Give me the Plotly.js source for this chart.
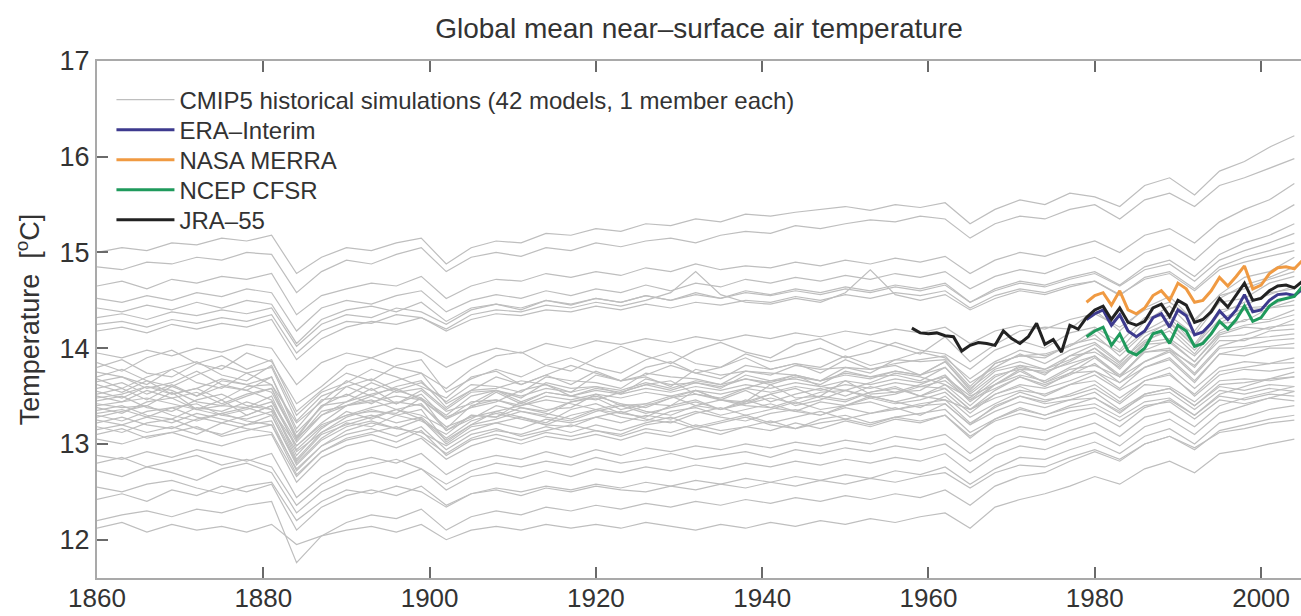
<!DOCTYPE html>
<html>
<head>
<meta charset="utf-8">
<script src="https://cdn.plot.ly/plotly-3.0.1.min.js"></script>
<style>html,body{margin:0;padding:0;background:#fff;overflow:hidden}</style>
</head>
<body>
<div id="chart" style="width:1301px;height:616px"></div>
<script>
// ---------------- data ----------------
const years = [1860,1863,1866,1869,1872,1875,1878,1881,1884,1887,1890,1893,1896,1899,1902,1905,1908,1911,1914,1917,1920,1923,1926,1929,1932,1935,1938,1941,1944,1947,1950,1953,1956,1959,1962,1965,1968,1971,1974,1977,1980,1983,1986,1989,1992,1995,1998,2001,2004];
const xTicks = [1860,1880,1900,1920,1940,1960,1980,2000];
const yTicks = [12,13,14,15,16,17];

// CMIP5 models - upper group
const model01 = [15.00,15.05,15.02,15.10,15.08,15.15,15.12,15.18,14.78,14.95,15.05,15.02,15.10,15.15,14.88,15.05,15.12,15.10,15.20,15.18,15.25,15.22,15.30,15.28,15.35,15.32,15.40,15.38,15.42,15.45,15.48,15.44,15.50,15.47,15.52,15.30,15.45,15.55,15.50,15.62,15.58,15.48,15.70,15.78,15.60,15.85,15.95,16.10,16.22];
const model02 = [14.85,14.82,14.90,14.88,14.95,14.92,15.00,14.98,14.58,14.80,14.92,14.88,14.98,15.05,14.80,14.95,15.00,14.96,15.05,15.02,15.10,15.06,15.12,15.15,15.10,15.18,15.22,15.20,15.28,15.25,15.30,15.34,15.32,15.38,15.35,15.15,15.30,15.38,15.35,15.45,15.50,15.35,15.55,15.62,15.48,15.70,15.78,15.88,15.98];
const model03 = [14.65,14.70,14.62,14.72,14.68,14.75,14.72,14.78,14.35,14.55,14.62,14.68,14.65,14.75,14.52,14.65,14.72,14.70,14.78,14.74,14.80,14.76,14.84,14.80,14.88,14.82,14.86,14.84,14.90,14.86,14.92,14.88,14.94,14.90,14.96,14.78,14.92,15.00,14.96,15.05,15.12,15.00,15.18,15.25,15.10,15.32,15.45,15.55,15.72];
const model04 = [14.52,14.48,14.55,14.50,14.58,14.54,14.62,14.58,14.18,14.42,14.50,14.46,14.55,14.60,14.38,14.50,14.56,14.52,14.60,14.55,14.62,14.58,14.66,14.60,14.68,14.64,14.72,14.68,14.74,14.70,14.76,14.72,14.78,14.74,14.80,14.62,14.75,14.82,14.78,14.88,14.95,14.82,15.00,15.08,14.92,15.15,15.25,15.35,15.50];
const model05 = [14.42,14.38,14.45,14.40,14.48,14.42,14.50,14.46,14.05,14.30,14.40,14.44,14.38,14.48,14.28,14.42,14.46,14.40,14.50,14.45,14.52,14.48,14.55,14.50,14.58,14.52,14.60,14.56,14.62,14.58,14.64,14.60,14.66,14.62,14.68,14.48,14.62,14.70,14.66,14.74,14.80,14.66,14.85,14.92,14.75,14.98,15.10,15.18,15.30];
const model06 = [14.32,14.36,14.30,14.38,14.34,14.40,14.36,14.42,14.02,14.25,14.35,14.32,14.42,14.38,14.25,14.40,14.46,14.42,14.50,14.46,14.52,14.48,14.55,14.50,14.56,14.52,14.58,14.55,14.60,14.56,14.62,14.58,14.64,14.60,14.66,14.48,14.60,14.68,14.64,14.72,14.78,14.65,14.82,14.88,14.70,14.92,15.02,15.10,15.20];
const model07 = [14.25,14.28,14.22,14.30,14.26,14.32,14.28,14.35,13.95,14.18,14.28,14.26,14.35,14.32,14.20,14.35,14.40,14.38,14.45,14.42,14.48,14.44,14.50,14.58,14.80,14.56,14.48,14.46,14.52,14.48,14.58,14.82,14.56,14.50,14.56,14.40,14.52,14.60,14.56,14.64,14.70,14.55,14.74,14.80,14.62,14.85,14.95,15.02,15.10];
const model08 = [14.18,14.22,14.16,14.25,14.20,14.26,14.22,14.30,13.88,14.10,14.22,14.28,14.25,14.32,14.18,14.30,14.36,14.34,14.40,14.38,14.44,14.40,14.46,14.42,14.48,14.45,14.50,14.48,14.54,14.50,14.56,14.52,14.58,14.55,14.60,14.42,14.55,14.62,14.58,14.66,14.70,14.56,14.72,14.78,14.60,14.82,14.90,14.96,15.02];
const model09 = [13.95,13.90,13.98,13.92,14.00,13.96,14.04,14.00,13.62,13.85,13.95,13.90,14.00,13.96,13.80,13.92,14.00,13.95,14.05,14.00,14.08,14.04,14.10,14.06,14.12,14.08,14.14,14.10,14.16,14.12,14.18,14.14,14.20,14.16,14.22,14.05,14.18,14.24,14.20,14.30,14.36,14.22,14.40,14.48,14.30,14.55,14.62,14.72,14.80];
// CMIP5 models - main group
const model10 = [13.85,13.76,13.90,13.98,13.84,13.78,13.95,13.86,13.42,13.60,13.82,13.90,13.80,13.74,13.58,13.78,13.92,13.96,13.82,13.76,13.90,14.02,13.92,13.84,13.98,14.06,13.96,13.90,14.04,14.10,13.98,14.08,14.02,13.94,14.12,13.86,14.04,14.18,14.22,14.20,14.40,14.18,14.42,14.54,14.28,14.56,14.74,14.80,14.95];
const model11 = [13.80,13.88,13.74,13.70,13.84,13.92,13.78,13.88,13.34,13.56,13.74,13.66,13.82,13.88,13.54,13.68,13.78,13.70,13.82,13.90,13.80,13.74,13.88,13.96,13.84,13.80,13.94,13.86,13.92,14.00,13.90,13.96,14.06,13.98,13.94,13.78,13.98,14.08,14.00,14.16,14.22,14.06,14.32,14.34,14.14,14.48,14.52,14.68,14.75];
const model12 = [13.75,13.70,13.62,13.78,13.86,13.72,13.66,13.82,13.30,13.54,13.64,13.78,13.70,13.60,13.48,13.70,13.76,13.62,13.72,13.82,13.74,13.66,13.80,13.86,13.74,13.80,13.90,13.78,13.84,13.80,13.92,13.82,13.88,13.96,13.90,13.68,13.86,13.98,13.92,14.02,14.14,13.92,14.16,14.26,14.02,14.30,14.42,14.44,14.55];
const model13 = [13.70,13.78,13.66,13.60,13.72,13.82,13.74,13.62,13.22,13.44,13.66,13.56,13.66,13.74,13.42,13.56,13.70,13.62,13.72,13.62,13.76,13.66,13.72,13.82,13.74,13.68,13.82,13.78,13.84,13.74,13.88,13.78,13.84,13.88,13.92,13.64,13.80,13.94,13.84,13.98,14.06,13.86,14.08,14.18,13.94,14.26,14.28,14.42,14.45];
const model14 = [13.68,13.58,13.70,13.78,13.64,13.58,13.74,13.80,13.24,13.50,13.60,13.68,13.56,13.64,13.44,13.62,13.60,13.54,13.70,13.66,13.64,13.58,13.74,13.70,13.68,13.62,13.76,13.74,13.72,13.66,13.80,13.78,13.82,13.72,13.86,13.58,13.78,13.86,13.78,13.92,13.96,13.80,14.04,14.06,13.86,14.14,14.22,14.20,14.30];
const model15 = [13.65,13.70,13.58,13.64,13.76,13.62,13.56,13.70,13.12,13.38,13.60,13.50,13.60,13.66,13.38,13.56,13.58,13.66,13.62,13.54,13.72,13.66,13.70,13.60,13.78,13.72,13.76,13.72,13.82,13.78,13.80,13.74,13.88,13.86,13.88,13.60,13.84,13.92,13.90,14.04,14.10,13.96,14.18,14.32,14.04,14.40,14.44,14.58,14.62];
const model16 = [13.62,13.54,13.66,13.52,13.58,13.68,13.62,13.70,13.16,13.46,13.50,13.64,13.54,13.58,13.36,13.54,13.56,13.48,13.64,13.58,13.60,13.52,13.68,13.62,13.64,13.58,13.72,13.66,13.68,13.62,13.76,13.70,13.72,13.66,13.80,13.52,13.72,13.78,13.76,13.84,13.92,13.72,13.96,13.98,13.82,14.08,14.08,14.18,14.20];
const model17 = [13.58,13.64,13.52,13.62,13.50,13.66,13.62,13.54,13.06,13.40,13.52,13.42,13.56,13.48,13.30,13.50,13.56,13.50,13.58,13.54,13.60,13.56,13.64,13.58,13.66,13.62,13.68,13.64,13.72,13.66,13.74,13.70,13.76,13.72,13.80,13.54,13.76,13.82,13.78,13.88,14.00,13.78,14.06,14.10,13.92,14.18,14.30,14.30,14.40];
const model18 = [13.55,13.48,13.60,13.52,13.58,13.46,13.60,13.62,13.08,13.40,13.44,13.58,13.42,13.56,13.34,13.42,13.56,13.44,13.54,13.50,13.56,13.52,13.58,13.54,13.60,13.56,13.62,13.58,13.64,13.60,13.66,13.62,13.68,13.64,13.70,13.50,13.62,13.76,13.64,13.78,13.82,13.70,13.86,13.96,13.72,14.00,14.02,14.08,14.10];
const model19 = [13.52,13.58,13.46,13.60,13.50,13.60,13.56,13.46,13.02,13.30,13.40,13.44,13.50,13.46,13.28,13.38,13.54,13.42,13.54,13.50,13.58,13.54,13.62,13.56,13.64,13.60,13.68,13.62,13.70,13.66,13.72,13.68,13.76,13.72,13.86,13.56,13.84,13.92,13.94,14.02,14.20,13.98,14.28,14.44,14.18,14.52,14.66,14.74,14.85];
const model20 = [13.50,13.44,13.56,13.48,13.54,13.42,13.52,13.58,13.04,13.34,13.40,13.50,13.42,13.52,13.26,13.44,13.46,13.40,13.50,13.46,13.52,13.48,13.54,13.50,13.56,13.52,13.58,13.54,13.60,13.56,13.62,13.58,13.64,13.60,13.66,13.46,13.58,13.70,13.60,13.74,13.76,13.64,13.80,13.88,13.64,13.94,13.92,14.00,14.00];
const model21 = [13.48,13.52,13.60,13.56,13.44,13.40,13.50,13.58,13.06,13.30,13.44,13.52,13.58,13.46,13.26,13.38,13.44,13.56,13.62,13.50,13.46,13.54,13.62,13.66,13.52,13.48,13.58,13.66,13.72,13.60,13.56,13.64,13.74,13.70,13.62,13.48,13.70,13.80,13.74,13.86,14.00,13.82,14.06,14.22,13.98,14.26,14.40,14.42,14.50];
const model22 = [13.45,13.50,13.38,13.34,13.46,13.52,13.40,13.36,12.98,13.22,13.40,13.46,13.36,13.30,13.16,13.40,13.46,13.38,13.34,13.44,13.50,13.42,13.38,13.48,13.56,13.46,13.42,13.52,13.58,13.48,13.44,13.54,13.60,13.50,13.46,13.36,13.52,13.60,13.50,13.62,13.72,13.56,13.70,13.80,13.58,13.80,13.86,13.84,13.90];
const model23 = [13.42,13.38,13.40,13.54,13.36,13.40,13.38,13.50,12.94,13.18,13.30,13.34,13.32,13.48,13.14,13.30,13.28,13.44,13.36,13.38,13.52,13.40,13.42,13.40,13.56,13.46,13.44,13.62,13.48,13.50,13.66,13.52,13.54,13.56,13.70,13.44,13.62,13.78,13.64,13.74,13.90,13.70,13.96,14.00,13.80,14.12,14.14,14.22,14.25];
const model24 = [13.40,13.44,13.48,13.42,13.36,13.30,13.36,13.44,12.98,13.20,13.30,13.38,13.44,13.40,13.18,13.28,13.34,13.40,13.46,13.42,13.36,13.32,13.40,13.48,13.52,13.46,13.40,13.38,13.46,13.54,13.56,13.50,13.44,13.50,13.58,13.36,13.48,13.56,13.52,13.62,13.66,13.48,13.66,13.74,13.50,13.72,13.78,13.76,13.80];
const model25 = [13.38,13.32,13.44,13.48,13.36,13.46,13.30,13.40,12.88,13.16,13.34,13.26,13.36,13.42,13.14,13.26,13.40,13.34,13.30,13.44,13.48,13.36,13.42,13.50,13.40,13.46,13.56,13.44,13.52,13.58,13.50,13.60,13.54,13.62,13.72,13.46,13.66,13.82,13.72,13.92,14.04,13.84,14.12,14.28,14.02,14.36,14.48,14.56,14.65];
const model26 = [13.35,13.40,13.30,13.26,13.38,13.34,13.44,13.36,12.92,13.12,13.28,13.36,13.30,13.24,13.10,13.30,13.28,13.38,13.32,13.26,13.36,13.42,13.34,13.30,13.40,13.36,13.46,13.38,13.34,13.44,13.40,13.50,13.44,13.38,13.50,13.28,13.42,13.54,13.46,13.50,13.58,13.42,13.62,13.60,13.44,13.66,13.68,13.66,13.70];
const model27 = [13.32,13.36,13.28,13.38,13.42,13.30,13.26,13.34,12.82,13.10,13.20,13.28,13.36,13.26,13.04,13.20,13.34,13.28,13.22,13.36,13.42,13.32,13.28,13.40,13.46,13.36,13.44,13.52,13.40,13.46,13.56,13.48,13.52,13.60,13.58,13.36,13.56,13.70,13.62,13.72,13.84,13.64,13.86,13.98,13.74,14.02,14.10,14.12,14.15];
const model28 = [13.30,13.24,13.34,13.38,13.28,13.22,13.30,13.40,12.84,13.12,13.24,13.30,13.22,13.28,13.06,13.24,13.32,13.26,13.20,13.30,13.36,13.28,13.24,13.34,13.38,13.30,13.36,13.42,13.34,13.30,13.40,13.44,13.36,13.42,13.46,13.22,13.38,13.50,13.42,13.46,13.54,13.36,13.52,13.58,13.40,13.60,13.56,13.62,13.60];
const model29 = [13.28,13.34,13.40,13.30,13.24,13.32,13.38,13.30,12.80,13.06,13.22,13.18,13.30,13.36,13.02,13.20,13.26,13.34,13.28,13.24,13.34,13.40,13.32,13.38,13.44,13.36,13.42,13.48,13.42,13.50,13.46,13.54,13.58,13.50,13.62,13.40,13.62,13.72,13.66,13.80,13.92,13.70,13.98,14.08,13.86,14.16,14.24,14.28,14.35];
const model30 = [13.25,13.20,13.28,13.22,13.32,13.26,13.20,13.30,12.78,13.04,13.18,13.24,13.16,13.26,13.00,13.18,13.22,13.16,13.26,13.22,13.28,13.22,13.30,13.26,13.34,13.28,13.24,13.32,13.36,13.30,13.38,13.32,13.36,13.40,13.42,13.20,13.34,13.44,13.38,13.46,13.48,13.34,13.50,13.54,13.36,13.56,13.52,13.58,13.55];
const model31 = [13.22,13.28,13.20,13.16,13.26,13.32,13.24,13.20,12.74,12.98,13.14,13.22,13.16,13.12,12.98,13.14,13.22,13.28,13.20,13.18,13.28,13.34,13.26,13.22,13.32,13.38,13.30,13.36,13.44,13.36,13.40,13.48,13.42,13.46,13.54,13.32,13.52,13.62,13.58,13.66,13.76,13.58,13.80,13.90,13.66,13.94,14.00,14.02,14.05];
const model32 = [13.18,13.12,13.22,13.26,13.16,13.10,13.20,13.24,12.72,12.98,13.10,13.16,13.08,13.18,12.94,13.10,13.16,13.08,13.14,13.20,13.14,13.10,13.20,13.24,13.16,13.22,13.28,13.20,13.16,13.26,13.30,13.22,13.28,13.32,13.36,13.12,13.26,13.38,13.30,13.38,13.42,13.28,13.44,13.48,13.30,13.50,13.46,13.52,13.50];
const model33 = [13.15,13.20,13.12,13.18,13.10,13.22,13.16,13.12,12.66,12.92,13.06,13.12,13.18,13.08,12.90,13.06,13.14,13.10,13.18,13.12,13.20,13.14,13.22,13.28,13.18,13.24,13.30,13.22,13.28,13.34,13.26,13.32,13.38,13.30,13.42,13.20,13.40,13.50,13.44,13.52,13.62,13.44,13.66,13.72,13.52,13.76,13.80,13.84,13.85];
const model34 = [13.10,13.16,13.06,13.12,13.18,13.08,13.14,13.20,12.68,12.92,13.04,13.10,13.02,13.14,12.88,13.04,13.10,13.04,13.12,13.08,13.14,13.08,13.16,13.12,13.20,13.14,13.18,13.24,13.16,13.22,13.26,13.20,13.28,13.24,13.30,13.08,13.24,13.32,13.26,13.34,13.38,13.24,13.40,13.44,13.26,13.46,13.42,13.48,13.45];
const model35 = [13.05,13.00,13.08,13.12,13.04,12.98,13.06,13.10,12.60,12.86,12.98,13.04,12.96,13.06,12.84,12.98,13.06,13.00,13.08,13.04,13.10,13.04,13.12,13.08,13.16,13.10,13.18,13.14,13.22,13.16,13.24,13.18,13.26,13.22,13.30,13.06,13.26,13.36,13.30,13.40,13.48,13.32,13.52,13.58,13.40,13.62,13.64,13.68,13.70];
// CMIP5 models - lower group
const model36 = [12.88,12.84,12.92,12.86,12.94,12.88,12.82,12.90,12.44,12.66,12.80,12.86,12.80,12.90,12.68,12.82,12.88,12.84,12.92,12.86,12.94,12.88,12.96,12.92,12.98,12.94,13.00,12.96,13.02,12.98,13.04,13.00,13.08,13.04,13.10,12.90,13.08,13.18,13.14,13.24,13.32,13.18,13.38,13.46,13.30,13.52,13.60,13.68,13.75];
const model37 = [12.72,12.66,12.76,12.70,12.62,12.74,12.80,12.70,12.28,12.50,12.62,12.70,12.64,12.74,12.52,12.66,12.70,12.64,12.72,12.66,12.74,12.70,12.76,12.72,12.78,12.74,12.80,12.76,12.82,12.78,12.84,12.80,12.86,12.82,12.90,12.70,12.88,12.98,12.94,13.04,13.12,12.98,13.18,13.26,13.10,13.32,13.40,13.48,13.55];
const model38 = [12.42,12.48,12.40,12.52,12.46,12.56,12.50,12.58,12.10,12.34,12.46,12.52,12.46,12.56,12.36,12.48,12.54,12.50,12.56,12.52,12.58,12.54,12.60,12.56,12.62,12.58,12.64,12.60,12.66,12.62,12.68,12.64,12.72,12.68,12.76,12.58,12.74,12.86,12.84,12.94,13.02,12.90,13.08,13.16,13.00,13.22,13.28,13.36,13.40];
const model39 = [12.20,12.26,12.30,12.24,12.32,12.28,12.36,12.40,11.76,12.04,12.18,12.26,12.22,12.32,12.10,12.24,12.30,12.26,12.34,12.30,12.36,12.32,12.38,12.34,12.40,12.36,12.42,12.38,12.44,12.40,12.46,12.42,12.48,12.44,12.52,12.36,12.56,12.66,12.70,12.82,12.92,12.82,13.00,13.08,12.94,13.14,13.20,13.26,13.30];
const model40 = [12.12,12.18,12.08,12.16,12.10,12.14,12.08,12.16,11.95,12.04,12.10,12.14,12.08,12.16,12.00,12.10,12.14,12.10,12.16,12.12,12.16,12.12,12.18,12.14,12.10,12.16,12.12,12.18,12.14,12.20,12.16,12.22,12.18,12.24,12.28,12.12,12.34,12.42,12.48,12.56,12.66,12.58,12.74,12.82,12.70,12.90,12.94,13.00,13.05];
const model41 = [12.80,12.86,12.76,12.82,12.88,12.78,12.84,12.76,12.36,12.58,12.72,12.78,12.84,12.74,12.58,12.72,12.80,12.76,12.82,12.78,12.86,12.80,12.84,12.90,12.84,12.88,12.92,12.86,12.94,12.90,12.96,12.92,12.98,12.94,13.00,12.82,12.98,13.08,13.04,13.14,13.22,13.08,13.28,13.34,13.18,13.40,13.48,13.54,13.60];
const model42 = [12.55,12.50,12.58,12.62,12.54,12.48,12.56,12.60,12.20,12.40,12.52,12.48,12.56,12.50,12.34,12.48,12.52,12.46,12.54,12.50,12.56,12.52,12.50,12.56,12.52,12.58,12.54,12.60,12.56,12.62,12.58,12.64,12.60,12.66,12.70,12.54,12.70,12.78,12.76,12.86,12.94,12.84,13.00,13.08,12.96,13.12,13.16,13.22,13.25];

// Reanalyses
const jraYears = [1958,1959,1960,1961,1962,1963,1964,1965,1966,1967,1968,1969,1970,1971,1972,1973,1974,1975,1976,1977,1978,1979,1980,1981,1982,1983,1984,1985,1986,1987,1988,1989,1990,1991,1992,1993,1994,1995,1996,1997,1998,1999,2000,2001,2002,2003,2004,2005];
const jra55 = [14.21,14.16,14.15,14.16,14.13,14.12,13.97,14.03,14.06,14.05,14.03,14.18,14.10,14.05,14.12,14.26,14.04,14.09,13.96,14.24,14.20,14.32,14.40,14.44,14.30,14.42,14.27,14.24,14.28,14.42,14.46,14.33,14.50,14.45,14.27,14.30,14.38,14.52,14.43,14.55,14.68,14.50,14.52,14.60,14.65,14.66,14.63,14.70];
const modernYears = [1979,1980,1981,1982,1983,1984,1985,1986,1987,1988,1989,1990,1991,1992,1993,1994,1995,1996,1997,1998,1999,2000,2001,2002,2003,2004,2005];
const eraInterim = [14.30,14.36,14.40,14.24,14.35,14.18,14.12,14.18,14.32,14.36,14.22,14.40,14.34,14.14,14.17,14.26,14.39,14.30,14.40,14.56,14.38,14.40,14.50,14.56,14.57,14.55,14.62];
const nasaMerra = [14.48,14.55,14.58,14.45,14.60,14.40,14.36,14.42,14.55,14.60,14.50,14.68,14.62,14.48,14.50,14.60,14.74,14.65,14.75,14.86,14.62,14.66,14.78,14.84,14.85,14.83,14.92];
const ncepCfsr = [14.12,14.18,14.22,14.03,14.15,13.97,13.93,14.00,14.15,14.18,14.05,14.24,14.18,14.02,14.05,14.15,14.28,14.20,14.30,14.44,14.28,14.32,14.44,14.50,14.52,14.54,14.65];

const models = [model01,model02,model03,model04,model05,model06,model07,model08,model09,model10,model11,model12,model13,model14,model15,model16,model17,model18,model19,model20,model21,model22,model23,model24,model25,model26,model27,model28,model29,model30,model31,model32,model33,model34,model35,model36,model37,model38,model39,model40,model41,model42];

// ---------------- chart ----------------
const FONT = '"Liberation Sans", Arial, Helvetica, sans-serif';
const cmipName = 'CMIP5 historical simulations (42 models, 1 member each)';

const traces = models.map((m, i) => ({
  x: years, y: m, type: 'scatter', mode: 'lines',
  name: cmipName, legendgroup: 'cmip', showlegend: i === 0,
  line: {color: 'rgb(190,190,190)', width: 1.2},
  hoverinfo: 'skip'
}));
traces.push({x: modernYears, y: eraInterim, type: 'scatter', mode: 'lines', name: 'ERA–Interim', line: {color: '#3d3a8e', width: 3}});
traces.push({x: modernYears, y: nasaMerra, type: 'scatter', mode: 'lines', name: 'NASA MERRA', line: {color: '#f09a42', width: 3}});
traces.push({x: modernYears, y: ncepCfsr, type: 'scatter', mode: 'lines', name: 'NCEP CFSR', line: {color: '#1f9a5c', width: 3}});
traces.push({x: jraYears, y: jra55, type: 'scatter', mode: 'lines', name: 'JRA–55', line: {color: '#222222', width: 3}});

const axisCommon = {
  ticks: 'inside', ticklen: 11, tickwidth: 1.5, tickcolor: '#6a6a6a',
  showline: true, linecolor: '#a9a9a9', linewidth: 2,
  showgrid: false, zeroline: false
};

const layout = {
  width: 1301, height: 616,
  margin: {l: 97, r: 0, t: 61, b: 38},
  paper_bgcolor: '#fff', plot_bgcolor: '#fff',
  font: {family: FONT, color: '#333'},
  title: {text: 'Global mean near–surface air temperature', font: {family: FONT, size: 28, color: '#333'},
          x: 0.5, xref: 'paper', xanchor: 'center', y: 0.955, yref: 'container', yanchor: 'middle'},
  xaxis: Object.assign({}, axisCommon, {range: [1860, 2004.8], tickmode: 'array', tickvals: xTicks, ticktext: xTicks.map(String),
          mirror: 'ticks', tickfont: {family: FONT, size: 26, color: '#333'}, ticklabelstandoff: -4}),
  yaxis: Object.assign({}, axisCommon, {range: [11.6, 17], tickmode: 'array', tickvals: yTicks, ticktext: yTicks.map(String), mirror: false,
          tickfont: {family: FONT, size: 27, color: '#333'},
          title: {text: 'Temperature&nbsp;&nbsp;[<sup>o</sup>C]', font: {family: FONT, size: 27, color: '#333'}, standoff: 12}}),
  legend: {x: 0.012, y: 0.968, xanchor: 'left', yanchor: 'top', bgcolor: 'rgba(255,255,255,0)',
           font: {family: FONT, size: 24, color: '#333'}, itemwidth: 58, tracegroupgap: 0, traceorder: 'normal'},
  showlegend: true
};

Plotly.newPlot('chart', traces, layout, {displayModeBar: false, responsive: false}).then(function (gd) {
  // tighten legend row spacing to match the reference (about 30 px per row)
  var items = gd.querySelectorAll('g.legend g.traces');
  var firstY = null;
  items.forEach(function (g, i) {
    var m = /translate\(\s*([-\d.e]+)[ ,]+([-\d.e]+)\s*\)/.exec(g.getAttribute('transform') || '');
    if (!m) return;
    var x = parseFloat(m[1]), y = parseFloat(m[2]);
    if (firstY === null) firstY = y;
    g.setAttribute('transform', 'translate(' + x + ',' + (firstY + i * 30) + ')');
  });
});
</script>
</body>
</html>
